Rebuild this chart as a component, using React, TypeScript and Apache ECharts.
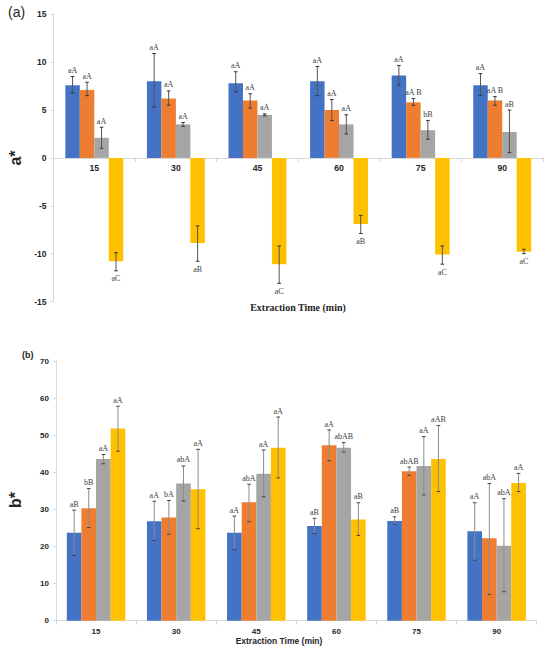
import React, { useEffect, useRef } from "react";
import * as echarts from "echarts";

const categories = ["15", "30", "45", "60", "75", "90"];
const seriesColors = ["#4472C4", "#ED7D31", "#A5A5A5", "#FFC000"];
const aTicks = { min: -15, max: 15, interval: 5 };
const bTicks = { min: 0, max: 70, interval: 10 };

// (a) a*
const aBlue = [7.6, 8.0, 7.8, 8.0, 8.6, 7.6];
const aBlueHigh = [8.5, 10.9, 9.0, 9.55, 9.65, 8.8];
const aBlueLow = [6.8, 5.3, 6.9, 6.5, 7.6, 6.5];
const aOrange = [7.1, 6.2, 6.0, 5.0, 5.8, 6.0];
const aOrangeHigh = [7.9, 7.0, 6.7, 6.1, 6.2, 6.4];
const aOrangeLow = [6.5, 5.5, 5.2, 3.9, 5.5, 5.5];
const aGray = [2.1, 3.5, 4.5, 3.5, 2.9, 2.7];
const aGrayHigh = [3.2, 3.7, 4.6, 4.5, 3.9, 5.0];
const aGrayLow = [1.0, 3.3, 4.4, 2.5, 1.95, 0.55];
const aYellow = [-10.8, -8.9, -11.1, -6.9, -10.1, -9.8];
const aYellowHigh = [-9.9, -7.1, -9.2, -6.0, -9.2, -9.55];
const aYellowLow = [-11.8, -10.8, -13.1, -7.9, -11.1, -10.0];
const aBlueLetters = ["aA", "aA", "aA", "aA", "aA", "aA"];
const aOrangeLetters = ["aA", "aA", "aA", "aA", "aA B", "aA B"];
const aGrayLetters = ["aA", "aA", "aA", "aA", "bB", "aB"];
const aYellowLetters = ["aC", "aB", "aC", "aB", "aC", "aC"];

// (b) b*
const bBlue = [23.7, 26.8, 23.7, 25.5, 26.9, 24.1];
const bBlueHigh = [29.8, 32.2, 28.2, 27.6, 28.0, 31.8];
const bBlueLow = [17.6, 21.6, 19.2, 23.5, 26.0, 16.3];
const bOrange = [30.3, 27.8, 31.9, 47.3, 40.3, 22.2];
const bOrangeHigh = [35.6, 32.4, 36.8, 51.4, 41.4, 37.0];
const bOrangeLow = [25.1, 23.3, 26.7, 43.1, 39.2, 7.1];
const bGray = [43.6, 37.0, 39.6, 46.6, 41.7, 20.2];
const bGrayHigh = [44.8, 41.7, 46.0, 48.0, 49.6, 32.9];
const bGrayLow = [42.3, 32.3, 33.4, 45.5, 33.9, 7.8];
const bYellow = [51.8, 35.4, 46.6, 27.3, 43.6, 37.1];
const bYellowHigh = [57.8, 46.2, 54.9, 31.8, 52.6, 39.7];
const bYellowLow = [45.7, 24.8, 38.5, 23.0, 34.8, 34.8];
const bBlueLetters = ["aB", "aA", "aA", "aB", "aB", "aA"];
const bOrangeLetters = ["bB", "bA", "abA", "aA", "abAB", "abA"];
const bGrayLetters = ["aA", "abA", "aA", "abAB", "aA", "abA"];
const bYellowLetters = ["aA", "aA", "aA", "aB", "aAB", "aA"];

const TEXT = "#262626";
const LETTER = "#404040";

function barSeries(idx: number, values: number[][], gap: string) {
  return values.map((v, s) => ({
    type: "bar",
    xAxisIndex: idx,
    yAxisIndex: idx,
    data: v,
    barGap: "0%",
    barCategoryGap: gap,
    itemStyle: { color: seriesColors[s] },
    silent: true,
  }));
}

function errorSeries(
  idx: number,
  gapRatio: number,
  lows: number[][],
  highs: number[][],
  letters: string[][],
  lineColor: string,
  capColor: string
) {
  const data: number[][] = [];
  const flatLetters: string[] = [];
  for (let c = 0; c < categories.length; c++) {
    for (let s = 0; s < 4; s++) {
      data.push([c, s, lows[s][c], highs[s][c]]);
      flatLetters.push(letters[s][c]);
    }
  }
  return {
    type: "custom",
    xAxisIndex: idx,
    yAxisIndex: idx,
    clip: false,
    silent: true,
    z: 10,
    itemStyle: { color: LETTER },
    data,
    encode: { x: 0, y: [2, 3] },
    renderItem: (params: any, api: any) => {
      const c = api.value(0);
      const s = api.value(1);
      const lo = api.value(2);
      const hi = api.value(3);
      const band = api.size([1, 0])[0];
      const barW = (band * (1 - gapRatio)) / 4;
      const cx = api.coord([c, 0])[0] + (s - 1.5) * barW;
      const yHi = api.coord([c, hi])[1];
      const yLo = api.coord([c, lo])[1];
      const neg = hi < 0;
      const cap = 1.8;
      const text = flatLetters[params.dataIndex];
      return {
        type: "group",
        children: [
          { type: "line", shape: { x1: cx, y1: yHi, x2: cx, y2: yLo }, style: { stroke: lineColor, lineWidth: 1 } },
          { type: "line", shape: { x1: cx - cap, y1: yHi, x2: cx + cap, y2: yHi }, style: { stroke: capColor, lineWidth: 1 } },
          { type: "line", shape: { x1: cx - cap, y1: yLo, x2: cx + cap, y2: yLo }, style: { stroke: capColor, lineWidth: 1 } },
          {
            type: "text",
            style: {
              text,
              x: cx,
              y: neg ? yLo + 4 : yHi - 2,
              align: "center",
              verticalAlign: neg ? "top" : "bottom",
              fontFamily: "Liberation Serif",
              fontSize: 8,
              fill: LETTER,
            },
          },
        ],
      };
    },
  };
}

const GRID_A = { left: 53.5, top: 14.3, width: 489.5, height: 287.2 };
const GRID_B = { left: 56, top: 361, width: 480.7, height: 259.7 };

export default function App() {
  const ref = useRef<HTMLDivElement>(null);
  useEffect(() => {
    if (!ref.current) return;
    const chart = echarts.init(ref.current, null, { renderer: "svg" });
    const axisLineGray = "#d9d9d9";
    const xAxisBase = (gridIndex: number, margin: number, fontSize: number, offset: number) => ({
      type: "category",
      gridIndex,
      data: categories,
      position: "bottom",
      offset,
      axisLine: { show: true, onZero: false, lineStyle: { color: axisLineGray, width: 1 } },
      axisTick: { show: true, length: 4, lineStyle: { color: axisLineGray } },
      axisLabel: {
        margin,
        fontSize,
        fontWeight: "bold",
        fontFamily: "Liberation Sans",
        color: TEXT,
      },
      splitLine: { show: false },
    });
    const yAxisBase = (gridIndex: number, t: any, fontSize: number) => ({
      type: "value",
      gridIndex,
      min: t.min,
      max: t.max,
      interval: t.interval,
      axisLine: { show: true, lineStyle: { color: axisLineGray, width: 1 } },
      axisTick: { show: true, length: 3, lineStyle: { color: axisLineGray } },
      axisLabel: {
        margin: 7,
        fontSize,
        fontWeight: "bold",
        fontFamily: "Liberation Sans",
        color: TEXT,
      },
      splitLine: { show: false },
    });
    // place the (a) category axis on the zero line
    const zeroOffsetA = -(GRID_A.height * (0 - aTicks.min)) / (aTicks.max - aTicks.min);

    const option: any = {
      animation: false,
      backgroundColor: "#ffffff",
      grid: [GRID_A, GRID_B],
      xAxis: [xAxisBase(0, 6, 8.7, zeroOffsetA), xAxisBase(1, 7, 8, 0)],
      yAxis: [yAxisBase(0, aTicks, 8.5), yAxisBase(1, bTicks, 8)],
      series: [
        ...barSeries(0, [aBlue, aOrange, aGray, aYellow], "29%"),
        ...barSeries(1, [bBlue, bOrange, bGray, bYellow], "27%"),
        errorSeries(
          0,
          0.29,
          [aBlueLow, aOrangeLow, aGrayLow, aYellowLow],
          [aBlueHigh, aOrangeHigh, aGrayHigh, aYellowHigh],
          [aBlueLetters, aOrangeLetters, aGrayLetters, aYellowLetters],
          "#555555",
          "#333333"
        ),
        errorSeries(
          1,
          0.27,
          [bBlueLow, bOrangeLow, bGrayLow, bYellowLow],
          [bBlueHigh, bOrangeHigh, bGrayHigh, bYellowHigh],
          [bBlueLetters, bOrangeLetters, bGrayLetters, bYellowLetters],
          "#8c8c8c",
          "#404040"
        ),
      ],
      graphic: [
        {
          type: "text",
          x: 8,
          y: 12,
          style: { text: "(a)", font: '14px "Liberation Sans"', fill: TEXT, align: "left", verticalAlign: "middle" },
        },
        {
          type: "text",
          x: 15,
          y: 158,
          rotation: Math.PI / 2,
          style: { text: "a*", font: 'bold 16px "Liberation Sans"', fill: TEXT, align: "center", verticalAlign: "middle" },
        },
        {
          type: "text",
          x: 298,
          y: 307,
          style: {
            text: "Extraction Time (min)",
            font: 'bold 10px "Liberation Serif"',
            fill: TEXT,
            align: "center",
            verticalAlign: "middle",
          },
        },
        {
          type: "text",
          x: 22,
          y: 355,
          style: { text: "(b)", font: 'bold 9px "Liberation Sans"', fill: TEXT, align: "left", verticalAlign: "middle" },
        },
        {
          type: "text",
          x: 15,
          y: 500,
          rotation: Math.PI / 2,
          style: { text: "b*", font: 'bold 16px "Liberation Sans"', fill: TEXT, align: "center", verticalAlign: "middle" },
        },
        {
          type: "text",
          x: 279,
          y: 641,
          style: {
            text: "Extraction Time (min)",
            font: 'bold 8.5px "Liberation Sans"',
            fill: TEXT,
            align: "center",
            verticalAlign: "middle",
          },
        },
      ],
    };
    chart.setOption(option);
    return () => chart.dispose();
  }, []);
  return (
    <div
      ref={ref}
      style={{ position: "absolute", left: 0, top: 0, width: 550, height: 650 }}
    />
  );
}
